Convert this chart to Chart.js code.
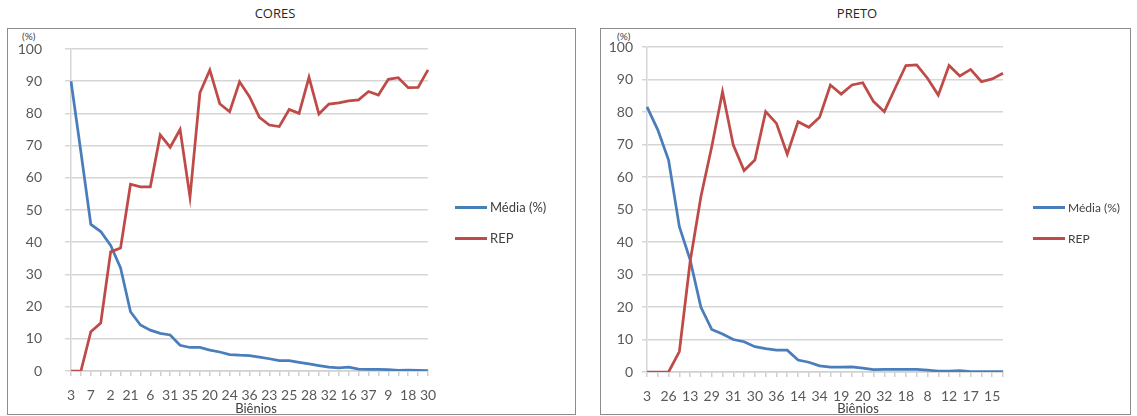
<!DOCTYPE html>
<html lang="pt">
<head>
  <meta charset="UTF-8">
  <title>Biênios - CORES / PRETO</title>
  <script src="https://cdn.jsdelivr.net/npm/chart.js"></script>
  <style>
    body {
      margin: 0;
      width: 1137px;
      height: 416px;
      background: #ffffff;
      font-family: "Lato", "Liberation Sans", sans-serif;
      position: relative;
      overflow: hidden;
    }
    .frame {
      position: absolute;
      border: 1px solid #8c8c8c;
      box-sizing: border-box;
      pointer-events: none;
    }
    .plot {
      position: absolute;
    }
    .title {
      position: absolute;
      font-family: "Open Sans", "Lato", sans-serif;
      font-size: 13px;
      font-weight: 400;
      color: #262626;
      transform: translateX(-50%);
      white-space: nowrap;
    }
    .axis-title {
      position: absolute;
      font-size: 13px;
      color: #404040;
      transform: translateX(-50%);
      white-space: nowrap;
    }
    .unit {
      position: absolute;
      font-size: 10px;
      color: #404040;
    }
    .legend {
      position: absolute;
      font-size: 13px;
      color: #404040;
    }
    .legend div {
      display: flex;
      align-items: center;
      height: 16px;
      margin-bottom: 15px;
    }
    .legend span.swatch {
      display: inline-block;
      width: 32px;
      height: 3px;
      margin-right: 3px;
    }
  </style>
</head>
<body>

<div class="title" style="left:275px; top:4px;">CORES</div>
<div class="title" style="left:857px; top:4px;">PRETO</div>

<div class="frame" style="left:7px; top:28px; width:569px; height:387px;"></div>
<div class="frame" style="left:600px; top:28px; width:531px; height:387px;"></div>

<div class="unit" style="left:22px; top:30px;">(%)</div>
<div class="unit" style="left:617px; top:30px;">(%)</div>

<div class="plot" style="left:7px; top:28px; width:568px; height:386px;"><canvas id="chartCores"></canvas></div>
<div class="plot" style="left:600px; top:28px; width:530px; height:386px;"><canvas id="chartPreto"></canvas></div>

<div class="axis-title" style="left:256px; top:400px;">Biênios</div>
<div class="axis-title" style="left:858px; top:400px;">Biênios</div>

<div class="legend" id="legendCores" style="left:455px; top:199px;"></div>
<div class="legend" id="legendPreto" style="left:1033px; top:199px; font-size:12px;"></div>

<script>
  // biênios shown on the axis (every other category carries a label)
  var coresTicks = [3, 7, 2, 21, 6, 31, 35, 20, 24, 36, 23, 25, 28, 32, 16, 37, 9, 18, 30];
  var pretoTicks = [3, 26, 13, 29, 31, 30, 36, 14, 34, 19, 20, 32, 18, 8, 12, 17, 15];

  var coresMedia = [90, 68, 45.5, 43.3, 39, 32, 18.4, 14.3, 12.7, 11.7, 11.2, 8, 7.3, 7.3, 6.5, 5.9, 5.1, 4.9, 4.8,
                    4.3, 3.8, 3.2, 3.2, 2.7, 2.2, 1.7, 1.2, 1.0, 1.2, 0.6, 0.5, 0.5, 0.4, 0.2, 0.3, 0.2, 0.1];
  var coresRep   = [0, 0, 12.2, 14.9, 37, 38.2, 58, 57.2, 57.2, 73.3, 69.5, 75, 54, 86.4, 93.5, 83, 80.5, 89.8, 85.2,
                    78.8, 76.4, 75.9, 81.2, 80, 91.2, 79.8, 82.9, 83.3, 83.9, 84.2, 86.8, 85.7, 90.6, 91.1, 88, 88.1, 93.5];

  var pretoMedia = [81.6, 74.5, 65.2, 44.7, 34.5, 19.9, 13.1, 11.7, 10, 9.3, 7.8, 7.2, 6.7, 6.7, 3.7, 3, 1.9,
                    1.5, 1.5, 1.6, 1.2, 0.7, 0.8, 0.8, 0.8, 0.8, 0.6, 0.3, 0.3, 0.4, 0.1, 0.1, 0.1, 0.1];
  var pretoRep   = [0, 0, 0, 6.3, 34, 54, 69.3, 86.2, 69.8, 62, 65.2, 80.1, 76.5, 67, 77, 75.3, 78.4,
                    88.3, 85.5, 88.3, 89, 83.2, 80.1, 87.3, 94.3, 94.5, 90.4, 85.2, 94.3, 91.1, 93.1, 89.3, 90.2, 91.9];

  var yTicks = [0, 10, 20, 30, 40, 50, 60, 70, 80, 90, 100];

  var seriesNames = ['Média (%)', 'REP'];
  var seriesColors = ['#4a7ebb', '#be4b48'];

  // one category per point, label only on the even ones
  function buildLabels(ticks, count) {
    var out = [];
    for (var i = 0; i < count; i++) {
      out.push(i % 2 === 0 && ticks[i / 2] !== undefined ? String(ticks[i / 2]) : '');
    }
    return out;
  }

  function makeChart(id, ticks, media, rep, g) {
    var ctx = document.getElementById(id).getContext('2d');
    return new Chart(ctx, {
      type: 'line',
      data: {
        labels: buildLabels(ticks, media.length),
        datasets: [{
          label: seriesNames[0],
          data: media,
          borderColor: seriesColors[0],
          borderWidth: 2.75,
          pointRadius: 0,
          tension: 0,
          order: 1
        }, {
          label: seriesNames[1],
          data: rep,
          borderColor: seriesColors[1],
          borderWidth: 2.75,
          pointRadius: 0,
          tension: 0,
          order: 0
        }]
      },
      options: {
        responsive: true,
        maintainAspectRatio: false,
        animation: false,
        layout: { padding: { top: g.top, right: g.right, left: 0, bottom: 0 } },
        plugins: {
          legend: { display: false },
          tooltip: { enabled: false }
        },
        scales: {
          x: {
            type: 'category',
            offset: false,
            afterFit: function (scale) { scale.height = g.xHeight; },
            grid: {
              drawOnChartArea: false,
              drawTicks: true,
              tickLength: 5,
              color: '#d0d0d0',
              lineWidth: 1.5
            },
            border: { color: '#d0d0d0', width: 1.5 },
            ticks: {
              autoSkip: false,
              maxRotation: 0,
              minRotation: 0,
              padding: 11,
              color: '#595959',
              font: { family: 'Lato', size: g.font }
            }
          },
          y: {
            min: 0,
            max: 100,
            afterFit: function (scale) {
              scale.width = g.yWidth;
              // the label padding would otherwise push the top of the plot down
              scale.paddingTop = 8;
              scale.paddingBottom = 8;
            },
            afterBuildTicks: function (scale) {
              scale.ticks = yTicks.map(function (v) { return { value: v }; });
            },
            grid: {
              color: '#d6d6d6',
              lineWidth: 1.5,
              drawTicks: true,
              tickLength: g.tickLen
            },
            border: { color: '#d6d6d6', width: 1.5 },
            ticks: {
              padding: g.yPad,
              color: '#595959',
              font: { family: 'Lato', size: g.font }
            }
          }
        }
      }
    });
  }

  function buildLegend(id, chart) {
    var box = document.getElementById(id);
    chart.data.datasets.forEach(function (ds) {
      var row = document.createElement('div');
      var sw = document.createElement('span');
      sw.className = 'swatch';
      sw.style.background = ds.borderColor;
      row.appendChild(sw);
      row.appendChild(document.createTextNode(ds.label));
      box.appendChild(row);
    });
  }

  var coresChart = makeChart('chartCores', coresTicks, coresMedia, coresRep,
    { top: 21, right: 147, xHeight: 43, yWidth: 64, tickLen: 6, yPad: 23, font: 14 });
  var pretoChart = makeChart('chartPreto', pretoTicks, pretoMedia, pretoRep,
    { top: 19, right: 127, xHeight: 42, yWidth: 47, tickLen: 5, yPad: 9, font: 14 });

  buildLegend('legendCores', coresChart);
  buildLegend('legendPreto', pretoChart);
</script>
</body>
</html>
